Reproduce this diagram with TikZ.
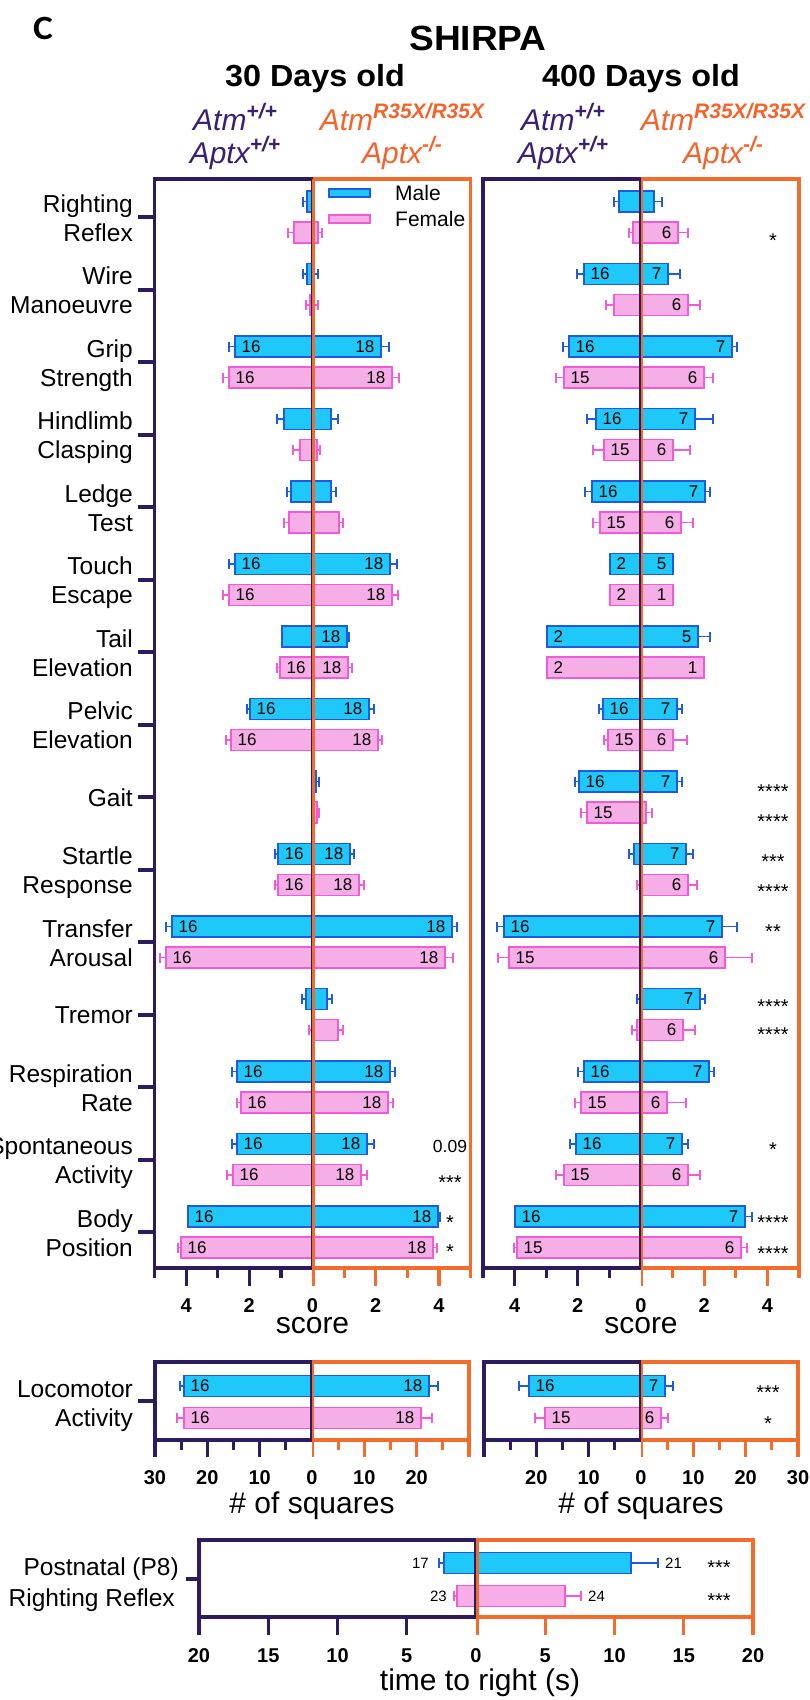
\documentclass[tikz,border=0pt]{standalone}
\usepackage{fontspec}
\setmainfont{Liberation Sans}
\newfontfamily\titlefont[FakeStretch=1.06]{Liberation Sans}
\newfontfamily\cfont[FakeStretch=1.1]{Carlito}
\definecolor{mfill}{HTML}{1EC8F8}
\definecolor{mdraw}{HTML}{1E5BE2}
\definecolor{ffill}{HTML}{F6AEE6}
\definecolor{fdraw}{HTML}{F25AD8}
\definecolor{purp}{HTML}{2D1B5E}
\definecolor{orng}{HTML}{F36C2B}
\definecolor{gpurp}{HTML}{3A1F72}
\definecolor{gorng}{HTML}{F5622A}
\tikzset{
  mbar/.style={fill=mfill, draw=mdraw, line width=1.8pt},
  fbar/.style={fill=ffill, draw=fdraw, line width=1.8pt},
  merr/.style={draw=mdraw, line width=1.6pt},
  ferr/.style={draw=fdraw, line width=1.6pt},
  pfr/.style={draw=purp, line width=3.2pt},
  ofr/.style={draw=orng, line width=3.2pt},
  ytick/.style={draw=purp, line width=4pt},
  cat/.style={font=\fontsize{24.5}{24.5}\selectfont, anchor=base east, inner sep=0},
  num/.style={font=\fontsize{17}{17}\selectfont, inner sep=0},
  pnum/.style={font=\fontsize{15}{15}\selectfont, inner sep=0},
  sig/.style={font=\fontsize{20}{20}\selectfont, anchor=base, inner sep=0},
  tl/.style={font=\fontsize{20}{20}\selectfont\bfseries, anchor=base, inner sep=0},
  axt/.style={font=\fontsize{30}{30}\selectfont, anchor=base, inner sep=0},
  geno/.style={font=\fontsize{30}{30}\selectfont\itshape, anchor=base, inner sep=0},
  ttl/.style={font=\titlefont\bfseries\fontsize{30.5}{30.5}\selectfont, anchor=base, inner sep=0},
}
\newcommand{\Mbar}[5]{%
  \draw[merr] (#4,#1) -- (#5,#1) (#4,#1-5) -- (#4,#1+5) (#5,#1-5) -- (#5,#1+5);
  \draw[mbar] (#2,#1-10.5) rectangle (#3,#1+10.5);}
\newcommand{\Fbar}[5]{%
  \draw[ferr] (#4,#1) -- (#5,#1) (#4,#1-5) -- (#4,#1+5) (#5,#1-5) -- (#5,#1+5);
  \draw[fbar] (#2,#1-10.5) rectangle (#3,#1+10.5);}
\newcommand{\NL}[3]{\node[num, anchor=west] at (#1+6.5,#2) {#3};}
\newcommand{\NR}[3]{\node[num, anchor=east] at (#1-6.5,#2) {#3};}
\newcommand{\Sig}[3]{\node[sig] at (#1,#2+11.5) {#3};}
\newcommand{\Cat}[3]{%
  \draw[ytick] (138,#1) -- (155,#1);
  \node[cat] at (133,#1-5) {#2};
  \node[cat] at (133,#1+24) {#3};}
\newcommand{\CatOne}[2]{%
  \draw[ytick] (138,#1) -- (155,#1);
  \node[cat] at (133,#1+9) {#2};}
\newcommand{\gsup}[1]{\raisebox{12pt}{\fontsize{21}{21}\selectfont\bfseries\itshape #1}}
\newcommand{\ShFrame}[1]{%
  \draw[pfr] (#1,179) -- (#1-158,179) -- (#1-158,1278);
  \draw[pfr] (#1-158,1268) -- (#1,1268);
  \draw[pfr] (#1-126.4,1268) -- ++(0,18) (#1-63.2,1268) -- ++(0,18)
             (#1-94.8,1268) -- ++(0,10) (#1-31.6,1268) -- ++(0,10);
  \draw[ofr] (#1,179) -- (#1+158,179) -- (#1+158,1278);
  \draw[ofr] (#1,1268) -- (#1+158,1268);
  \draw[ofr] (#1+126.4,1268) -- ++(0,18) (#1+63.2,1268) -- ++(0,18)
             (#1+94.8,1268) -- ++(0,10) (#1+31.6,1268) -- ++(0,10);
  \draw[orng, line width=2.6pt] (#1+1,179) -- (#1+1,1286);
  \draw[purp, line width=1.4pt] (#1-1.2,179) -- (#1-1.2,1268);
  \node[tl] at (#1-126.4,1312) {4};
  \node[tl] at (#1-63.2,1312) {2};
  \node[tl] at (#1,1312) {0};
  \node[tl] at (#1+63.2,1312) {2};
  \node[tl] at (#1+126.4,1312) {4};
  \node[axt] at (#1,1333) {score};}
\newcommand{\LoFrame}[1]{%
  \draw[pfr] (#1,1362) -- (#1-157,1362) -- (#1-157,1457);
  \draw[pfr] (#1-157,1440) -- (#1,1440);
  \draw[pfr] (#1-104.7,1440) -- ++(0,17) (#1-52.3,1440) -- ++(0,17)
             (#1-130.8,1440) -- ++(0,10) (#1-78.5,1440) -- ++(0,10) (#1-26.2,1440) -- ++(0,10);
  \draw[ofr] (#1,1362) -- (#1+157,1362) -- (#1+157,1457);
  \draw[ofr] (#1,1440) -- (#1+157,1440);
  \draw[ofr] (#1+104.7,1440) -- ++(0,17) (#1+52.3,1440) -- ++(0,17)
             (#1+130.8,1440) -- ++(0,10) (#1+78.5,1440) -- ++(0,10) (#1+26.2,1440) -- ++(0,10);
  \draw[orng, line width=2.6pt] (#1+1,1362) -- (#1+1,1457);
  \draw[purp, line width=1.4pt] (#1-1.2,1362) -- (#1-1.2,1440);
  \node[tl] at (#1-104.7,1484) {20};
  \node[tl] at (#1-52.3,1484) {10};
  \node[tl] at (#1,1484) {0};
  \node[tl] at (#1+52.3,1484) {10};
  \node[tl] at (#1+104.7,1484) {20};
  \node[axt] at (#1,1513) {\# of squares};}
\begin{document}
\begin{tikzpicture}[x=1pt,y=-1pt,line join=miter]
\useasboundingbox (0,0) rectangle (809,1700);

% ---------- titles ----------
\node[font=\cfont\bfseries\fontsize{34}{34}\selectfont, anchor=base, inner sep=0] (lblC) at (43,39) {C};
\node[font=\titlefont\bfseries\fontsize{35}{35}\selectfont, anchor=base, inner sep=0] (title) at (478,50) {SHIRPA};
\node[ttl] (t30) at (315,86) {30 Days old};
\node[ttl] (t400) at (641,86) {400 Days old};
\node[geno, text=gpurp] (g1a) at (235,130) {Atm\gsup{+/+}};
\node[geno, text=gpurp] (g1b) at (235,163) {Aptx\gsup{+/+}};
\node[geno, text=gorng] (g2a) at (402,130) {Atm\gsup{R35X/R35X}};
\node[geno, text=gorng] (g2b) at (402,163) {Aptx\gsup{-/-}};
\node[geno, text=gpurp] (g3a) at (563,130) {Atm\gsup{+/+}};
\node[geno, text=gpurp] (g3b) at (563,163) {Aptx\gsup{+/+}};
\node[geno, text=gorng] (g4a) at (723,130) {Atm\gsup{R35X/R35X}};
\node[geno, text=gorng] (g4b) at (723,163) {Aptx\gsup{-/-}};

% ---------- category labels ----------
\Cat{217}{Righting}{Reflex}
\Cat{289.5}{Wire}{Manoeuvre}
\Cat{362}{Grip}{Strength}
\Cat{434.5}{Hindlimb}{Clasping}
\Cat{507}{Ledge}{Test}
\Cat{579.5}{Touch}{Escape}
\Cat{652}{Tail}{Elevation}
\Cat{724.5}{Pelvic}{Elevation}
\CatOne{797}{Gait}
\Cat{869.5}{Startle}{Response}
\Cat{942}{Transfer}{Arousal}
\CatOne{1014.5}{Tremor}
\Cat{1087}{Respiration}{Rate}
\Cat{1159.5}{Spontaneous}{Activity}
\Cat{1232}{Body}{Position}

% ---------- 30 days bars ----------
\Mbar{201.5}{307}{312}{303}{312}
\Fbar{232.5}{294}{318}{288}{322}
\Mbar{274}{307}{313}{303}{318}
\Fbar{305}{310}{313}{306}{318}
\Mbar{346.5}{235}{381}{229}{389} \NL{235}{346.5}{16} \NR{381}{346.5}{18}
\Fbar{377.5}{229}{392}{223}{399} \NL{229}{377.5}{16} \NR{392}{377.5}{18}
\Mbar{419}{284}{331}{277}{338}
\Fbar{450}{300}{317}{293}{320}
\Mbar{491.5}{291}{331}{287}{336}
\Fbar{522.5}{289}{339}{284}{343}
\Mbar{564}{235}{390}{229}{397} \NL{235}{564}{16} \NR{390}{564}{18}
\Fbar{595}{229}{392}{223}{398} \NL{229}{595}{16} \NR{392}{595}{18}
\Mbar{636.5}{282}{347}{282}{349} \NR{347}{636.5}{18}
\Fbar{667.5}{280}{348}{277}{352} \NL{280}{667.5}{16} \NR{348}{667.5}{18}
\Mbar{709}{250}{369}{247}{374} \NL{250}{709}{16} \NR{369}{709}{18}
\Fbar{740}{231}{378}{226}{382} \NL{231}{740}{16} \NR{378}{740}{18}
\Mbar{781.5}{312}{316}{312}{319}
\Fbar{812.5}{312}{317}{312}{319}
\Mbar{854}{278}{350}{275}{354} \NL{278}{854}{16} \NR{350}{854}{18}
\Fbar{885}{278}{359}{275}{364} \NL{278}{885}{16} \NR{359}{885}{18}
\Mbar{926.5}{172}{452}{166}{457} \NL{172}{926.5}{16} \NR{452}{926.5}{18}
\Fbar{957.5}{166}{445}{160}{453} \NL{166}{957.5}{16} \NR{445}{957.5}{18}
\Mbar{999}{306}{327}{302}{332}
\Fbar{1030}{312}{338}{309}{343}
\Mbar{1071.5}{237}{390}{232}{395} \NL{237}{1071.5}{16} \NR{390}{1071.5}{18}
\Fbar{1102.5}{241}{388}{237}{393} \NL{241}{1102.5}{16} \NR{388}{1102.5}{18}
\Mbar{1144}{237}{367}{232}{374} \NL{237}{1144}{16} \NR{367}{1144}{18}
\Fbar{1175}{233}{361}{227}{367} \NL{233}{1175}{16} \NR{361}{1175}{18}
\Mbar{1216.5}{188}{438}{188}{440} \NL{188}{1216.5}{16} \NR{438}{1216.5}{18}
\Fbar{1247.5}{181}{433}{178}{437} \NL{181}{1247.5}{16} \NR{433}{1247.5}{18}

% ---------- 400 days bars ----------
\Mbar{201.5}{619}{654}{614}{662}
\Fbar{232.5}{633}{678}{629}{688} \NR{678}{232.5}{6}
\Mbar{274}{584}{668}{577}{680} \NL{584}{274}{16} \NR{668}{274}{7}
\Fbar{305}{614}{688}{606}{700} \NR{688}{305}{6}
\Mbar{346.5}{569}{732}{563}{737} \NL{569}{346.5}{16} \NR{732}{346.5}{7}
\Fbar{377.5}{564}{704}{556}{713} \NL{564}{377.5}{15} \NR{704}{377.5}{6}
\Mbar{419}{596}{695}{587}{713} \NL{596}{419}{16} \NR{695}{419}{7}
\Fbar{450}{604}{673}{593}{690} \NL{604}{450}{15} \NR{673}{450}{6}
\Mbar{491.5}{592}{705}{585}{710} \NL{592}{491.5}{16} \NR{705}{491.5}{7}
\Fbar{522.5}{600}{681}{593}{693} \NL{600}{522.5}{15} \NR{681}{522.5}{6}
\Mbar{564}{610}{673}{610}{673} \NL{610}{564}{2} \NR{673}{564}{5}
\Fbar{595}{610}{673}{610}{673} \NL{610}{595}{2} \NR{673}{595}{1}
\Mbar{636.5}{547}{698}{547}{710} \NL{547}{636.5}{2} \NR{698}{636.5}{5}
\Fbar{667.5}{547}{704}{547}{704} \NL{547}{667.5}{2} \NR{704}{667.5}{1}
\Mbar{709}{603}{677}{599}{682} \NL{603}{709}{16} \NR{677}{709}{7}
\Fbar{740}{608}{673}{604}{687} \NL{608}{740}{15} \NR{673}{740}{6}
\Mbar{781.5}{579}{677}{575}{682} \NL{579}{781.5}{16} \NR{677}{781.5}{7}
\Fbar{812.5}{587}{646}{581}{652} \NL{587}{812.5}{15}
\Mbar{854}{634}{686}{629}{693} \NR{686}{854}{7}
\Fbar{885}{641}{688}{637}{697} \NR{688}{885}{6}
\Mbar{926.5}{504}{722}{497}{737} \NL{504}{926.5}{16} \NR{722}{926.5}{7}
\Fbar{957.5}{509}{725}{498}{752} \NL{509}{957.5}{15} \NR{725}{957.5}{6}
\Mbar{999}{641}{700}{637}{705} \NR{700}{999}{7}
\Fbar{1030}{637}{683}{632}{695} \NR{683}{1030}{6}
\Mbar{1071.5}{584}{709}{578}{714} \NL{584}{1071.5}{16} \NR{709}{1071.5}{7}
\Fbar{1102.5}{581}{667}{575}{686} \NL{581}{1102.5}{15} \NR{667}{1102.5}{6}
\Mbar{1144}{576}{682}{570}{688} \NL{576}{1144}{16} \NR{682}{1144}{7}
\Fbar{1175}{564}{688}{556}{700} \NL{564}{1175}{15} \NR{688}{1175}{6}
\Mbar{1216.5}{515}{745}{515}{752} \NL{515}{1216.5}{16} \NR{745}{1216.5}{7}
\Fbar{1247.5}{517}{741}{514}{747} \NL{517}{1247.5}{15} \NR{741}{1247.5}{6}

% ---------- SHIRPA frames ----------
\ShFrame{312.5}
\ShFrame{641}

% legend
\draw[mbar] (329,189) rectangle (370,197);
\draw[fbar] (329,215) rectangle (370,223);
\node[font=\fontsize{21}{21}\selectfont, anchor=west, inner sep=0] (legM) at (395,193) {Male};
\node[font=\fontsize{21}{21}\selectfont, anchor=west, inner sep=0] (legF) at (395,219) {Female};

% significance
\node[num, font=\fontsize{17.5}{17.5}\selectfont] (p009) at (450,1146) {0.09};
\Sig{450}{1178}{***}
\Sig{450}{1218}{*}
\Sig{450}{1247}{*}
\Sig{773}{236}{*}
\Sig{773}{787}{****}
\Sig{773}{817}{****}
\Sig{773}{857}{***}
\Sig{773}{887}{****}
\Sig{773}{927}{**}
\Sig{773}{1002}{****}
\Sig{773}{1030}{****}
\Sig{773}{1145}{*}
\Sig{773}{1218}{****}
\Sig{773}{1249}{****}

% ---------- Locomotor ----------
\draw[ytick] (138,1401) -- (154,1401);
\node[cat] (locA) at (133,1397) {Locomotor};
\node[cat] (locB) at (133,1426) {Activity};
\Mbar{1386}{184}{429}{180}{438} \NL{184}{1386}{16} \NR{429}{1386}{18}
\Fbar{1418}{184}{421}{177}{432} \NL{184}{1418}{16} \NR{421}{1418}{18}
\Mbar{1386}{529}{665}{519}{673} \NL{529}{1386}{16} \NR{665}{1386}{7}
\Fbar{1418}{545}{661}{535}{668} \NL{545}{1418}{15} \NR{661}{1418}{6}
\LoFrame{312}
\LoFrame{641}
\node[tl] at (312-157,1484) {30};
\node[tl] at (641+157,1484) {30};
\Sig{768}{1388}{***}
\Sig{768}{1419}{*}

% ---------- Postnatal ----------
\draw[ytick] (186,1579) -- (200,1579);
\node[cat] (pnA) at (179,1575) {Postnatal (P8)};
\node[cat] (pnB) at (175,1606) {Righting Reflex};
\draw[merr] (439,1563) -- (658,1563) (439,1558) -- (439,1568) (658,1558) -- (658,1568);
\draw[mbar] (444,1552.5) rectangle (631,1573.5);
\draw[ferr] (454,1596) -- (581,1596) (454,1591) -- (454,1601) (581,1591) -- (581,1601);
\draw[fbar] (457,1585.5) rectangle (565,1606.5);
\node[pnum, anchor=east] (n17) at (429,1563) {17};
\node[pnum, anchor=west] (n21) at (665,1563) {21};
\node[pnum, anchor=east] (n23) at (447,1596) {23};
\node[pnum, anchor=west] (n24) at (588,1596) {24};
\Sig{719}{1563}{***}
\Sig{719}{1596}{***}
\draw[pfr] (476,1540) -- (199,1540) -- (199,1635);
\draw[pfr] (199,1617) -- (476,1617);
\draw[pfr] (268.25,1617) -- ++(0,18) (337.5,1617) -- ++(0,18) (406.75,1617) -- ++(0,18);
\draw[ofr] (476,1540) -- (753,1540) -- (753,1635);
\draw[ofr] (476,1617) -- (753,1617);
\draw[ofr] (545.25,1617) -- ++(0,18) (614.5,1617) -- ++(0,18) (683.75,1617) -- ++(0,18);
\draw[orng, line width=2.6pt] (477.3,1540) -- (477.3,1635);
\draw[purp, line width=1.2pt] (475,1540) -- (475,1617);
\node[tl] at (199,1662) {20};
\node[tl] at (268.25,1662) {15};
\node[tl] at (337.5,1662) {10};
\node[tl] at (406.75,1662) {5};
\node[tl] at (476,1662) {0};
\node[tl] at (545.25,1662) {5};
\node[tl] at (614.5,1662) {10};
\node[tl] at (683.75,1662) {15};
\node[tl] at (753,1662) {20};
\node[axt] (tt) at (480,1690) {time to right (s)};
\end{tikzpicture}
\end{document}
